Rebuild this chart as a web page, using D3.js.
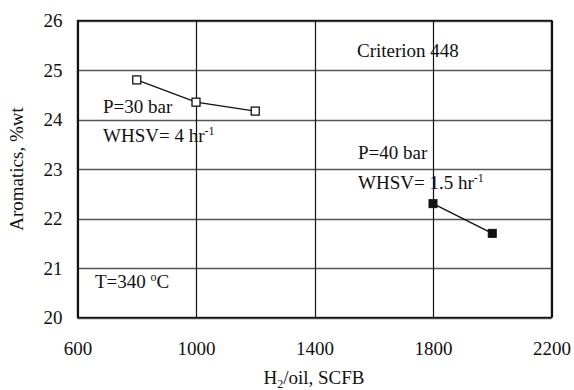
<!DOCTYPE html>
<html>
<head>
<meta charset="utf-8">
<script src="https://cdn.jsdelivr.net/npm/d3@7"></script>
<style>
  html, body { margin: 0; padding: 0; background: #fff; }
  svg text { font-family: "Liberation Serif", "Times New Roman", serif !important; fill: #111; }
</style>
</head>
<body>
<svg id="chart" width="574" height="390"></svg>
<script>
// H2/oil ratio (SCFB) vs aromatics content (%wt)
const seriesLowP_x = [800, 1000, 1200];
const seriesLowP_y = [24.8, 24.35, 24.17];
const seriesHighP_x = [1800, 2000];
const seriesHighP_y = [22.3, 21.7];
const xTicks = [600, 1000, 1400, 1800, 2200];
const yTicks = [20, 21, 22, 23, 24, 25, 26];

const svg = d3.select("#chart");
const m = { left: 77.5, right: 551.5, top: 20.5, bottom: 317.5 };
const fs = 19;

const x = d3.scaleLinear().domain([600, 2200]).range([m.left, m.right]);
const y = d3.scaleLinear().domain([20, 26]).range([m.bottom, m.top]);

// grid
const g = svg.append("g");
g.selectAll("line.h").data(yTicks).join("line")
  .attr("x1", m.left).attr("x2", m.right)
  .attr("y1", d => Math.round(y(d)) + 0.5).attr("y2", d => Math.round(y(d)) + 0.5)
  .attr("stroke", "#555").attr("stroke-width", 1.3);
g.selectAll("line.v").data(xTicks).join("line")
  .attr("y1", m.top).attr("y2", m.bottom)
  .attr("x1", d => Math.round(x(d)) + 0.5).attr("x2", d => Math.round(x(d)) + 0.5)
  .attr("stroke", "#111").attr("stroke-width", 1.2);
svg.append("rect")
  .attr("x", m.left).attr("y", m.top)
  .attr("width", m.right - m.left).attr("height", m.bottom - m.top)
  .attr("fill", "none").attr("stroke", "#111").attr("stroke-width", 1.4);

// tick labels via d3 axes (domain/ticks hidden, labels only)
const xAxis = svg.append("g").attr("transform", `translate(0,${m.bottom})`)
  .call(d3.axisBottom(x).tickValues(xTicks).tickSize(0).tickPadding(0).tickFormat(d3.format("d")));
xAxis.attr("font-family", null).attr("font-size", null);
xAxis.select(".domain").remove();
xAxis.selectAll("text").attr("y", 37).attr("dy", 0)
  .style("font-size", fs + "px").attr("fill", "#111");

const yAxis = svg.append("g").attr("transform", `translate(${m.left},0)`)
  .call(d3.axisLeft(y).tickValues(yTicks).tickSize(0).tickPadding(15).tickFormat(d3.format("d")));
yAxis.attr("font-family", null).attr("font-size", null);
yAxis.select(".domain").remove();
yAxis.selectAll("text").attr("dy", "0.33em")
  .style("font-size", fs + "px").attr("fill", "#111");

// axis titles
const xt = svg.append("text").attr("x", 314).attr("y", 384)
  .attr("text-anchor", "middle").style("font-size", fs + "px");
xt.append("tspan").text("H");
xt.append("tspan").attr("dy", 4).style("font-size", "12px").text("2");
xt.append("tspan").attr("dy", -4).text("/oil, SCFB");

svg.append("text").attr("transform", "translate(23,169) rotate(-90)")
  .attr("text-anchor", "middle").style("font-size", fs + "px").text("Aromatics, %wt");

// series lines
const line = d3.line().x(d => x(d[0])).y(d => y(d[1]));
const lowP = d3.zip(seriesLowP_x, seriesLowP_y);
const highP = d3.zip(seriesHighP_x, seriesHighP_y);
svg.append("path").datum(lowP).attr("d", line)
  .attr("fill", "none").attr("stroke", "#111").attr("stroke-width", 1.3);
svg.append("path").datum(highP).attr("d", line)
  .attr("fill", "none").attr("stroke", "#111").attr("stroke-width", 1.3);

const s = 8;
svg.selectAll("rect.open").data(lowP).join("rect")
  .attr("x", d => x(d[0]) - s / 2).attr("y", d => y(d[1]) - s / 2)
  .attr("width", s).attr("height", s)
  .attr("fill", "#fff").attr("stroke", "#111").attr("stroke-width", 1.3);
svg.selectAll("rect.filled").data(highP).join("rect")
  .attr("x", d => x(d[0]) - s / 2).attr("y", d => y(d[1]) - s / 2)
  .attr("width", s).attr("height", s)
  .attr("fill", "#111").attr("stroke", "#111").attr("stroke-width", 1);

// annotations
function note(px, py, parts) {
  const t = svg.append("text").attr("x", px).attr("y", py).style("font-size", fs + "px");
  parts.forEach(p => {
    const sp = t.append("tspan").text(p.t);
    if (p.sup) sp.attr("dy", -7).style("font-size", "12px");
    if (p.back) sp.attr("dy", 7);
  });
}
note(357, 57, [{ t: "Criterion 448" }]);
note(103, 113, [{ t: "P=30 bar" }]);
note(103, 142, [{ t: "WHSV= 4 hr" }, { t: "-1", sup: true }]);
note(358, 159, [{ t: "P=40 bar" }]);
note(358, 189, [{ t: "WHSV= 1.5 hr" }, { t: "-1", sup: true }]);
note(95, 288, [{ t: "T=340 " }, { t: "o", sup: true }, { t: "C", back: true }]);
</script>
</body>
</html>
